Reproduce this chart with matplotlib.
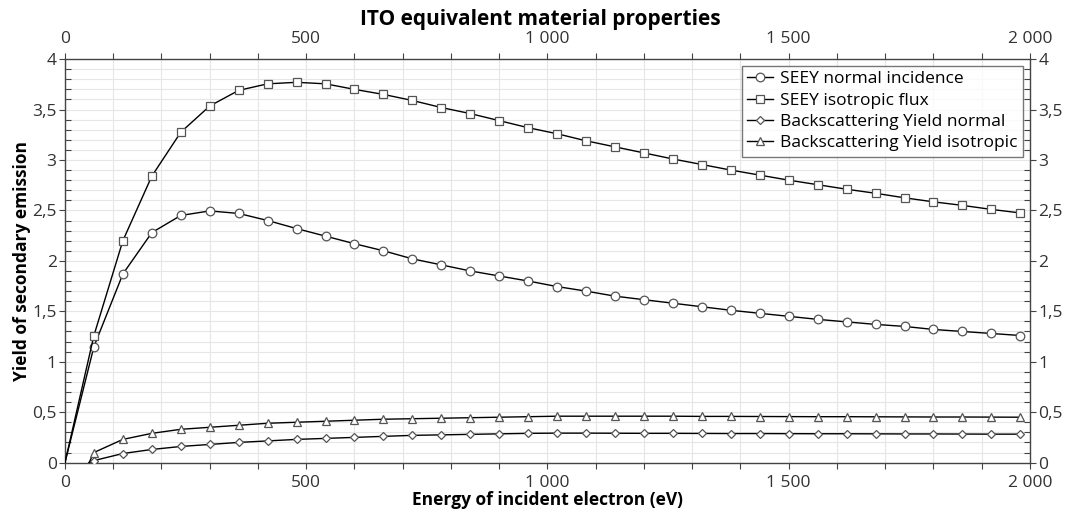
import matplotlib
matplotlib.use("Agg")
import matplotlib.pyplot as plt
from matplotlib.ticker import MultipleLocator, FuncFormatter

plt.rcParams["font.family"] = ["Open Sans", "DejaVu Sans"]

# energies (eV) where the markers sit, every 60 eV
ENERGY = [60, 120, 180, 240, 300, 360, 420, 480, 540, 600, 660, 720, 780, 840, 900, 960,
          1020, 1080, 1140, 1200, 1260, 1320, 1380, 1440, 1500, 1560, 1620, 1680, 1740,
          1800, 1860, 1920, 1980]

SEEY_NORMAL = [1.15, 1.87, 2.28, 2.45, 2.495, 2.47, 2.40, 2.32, 2.245, 2.17, 2.10, 2.02,
               1.96, 1.90, 1.85, 1.80, 1.745, 1.70, 1.65, 1.615, 1.58, 1.545, 1.51, 1.48,
               1.45, 1.42, 1.395, 1.37, 1.35, 1.32, 1.30, 1.28, 1.26]
SEEY_ISO = [1.26, 2.20, 2.84, 3.275, 3.535, 3.69, 3.755, 3.77, 3.755, 3.70, 3.65, 3.59,
            3.52, 3.46, 3.39, 3.32, 3.26, 3.19, 3.13, 3.07, 3.01, 2.955, 2.90, 2.85,
            2.80, 2.755, 2.71, 2.67, 2.625, 2.585, 2.55, 2.51, 2.475]
BSE_NORMAL = [0.02, 0.09, 0.13, 0.16, 0.18, 0.20, 0.215, 0.23, 0.24, 0.25, 0.26, 0.27,
              0.275, 0.28, 0.285, 0.29, 0.292, 0.292, 0.291, 0.29, 0.29, 0.289, 0.288,
              0.288, 0.287, 0.286, 0.286, 0.285, 0.284, 0.284, 0.283, 0.282, 0.282]
BSE_ISO = [0.10, 0.23, 0.29, 0.33, 0.35, 0.37, 0.39, 0.40, 0.41, 0.42, 0.43, 0.435,
           0.44, 0.445, 0.45, 0.455, 0.46, 0.46, 0.46, 0.46, 0.46, 0.458, 0.458, 0.457,
           0.456, 0.455, 0.455, 0.454, 0.453, 0.452, 0.452, 0.451, 0.45]

# curves leave zero at these energies (no marker there)
SEEY_START = 0
BSE_START = 50

LABELS = ["SEEY normal incidence", "SEEY isotropic flux",
          "Backscattering Yield normal", "Backscattering Yield isotropic"]

INK = "#333333"
EDGE = "#555555"


def fmt(v, _pos):
    if abs(v - round(v)) < 1e-9:
        s = f"{int(round(v)):,}".replace(",", " ")
    else:
        s = f"{v:g}".replace(".", ",")
    return s


fig = plt.figure(figsize=(10.74, 5.14), dpi=100)
ax = fig.add_axes([0.0605, 0.1, 0.8985, 0.785])

series = [
    (SEEY_NORMAL, SEEY_START, "o", 6.2),
    (SEEY_ISO, SEEY_START, "s", 6.2),
    (BSE_NORMAL, BSE_START, "D", 3.8),
    (BSE_ISO, BSE_START, "^", 6.0),
]
for (vals, x0, mk, ms), lab in zip(series, LABELS):
    ax.plot([x0] + ENERGY, [0.0] + vals, color="black", lw=1.0,
            marker=mk, ms=ms, mfc="white", mec=EDGE, mew=0.9,
            markevery=slice(1, None), label=lab, zorder=3)

ax.set_xlim(0, 2000)
ax.set_ylim(0, 4)
ax.xaxis.set_major_locator(MultipleLocator(500))
ax.xaxis.set_minor_locator(MultipleLocator(100))
ax.yaxis.set_major_locator(MultipleLocator(0.5))
ax.yaxis.set_minor_locator(MultipleLocator(0.1))
ax.xaxis.set_major_formatter(FuncFormatter(fmt))
ax.yaxis.set_major_formatter(FuncFormatter(fmt))

ax.grid(True, which="both", color="#e6e6e6", lw=0.8, zorder=0)
ax.set_axisbelow(True)

ax.tick_params(axis="both", which="both", colors="#444444", labelcolor=INK,
               labelsize=12.5, top=True, right=True, labeltop=True, labelright=True)
ax.tick_params(axis="x", which="both", direction="out", length=4, width=0.8, pad=5)
ax.tick_params(axis="y", which="major", direction="out", length=4, width=0.8, pad=2)
ax.tick_params(axis="y", which="minor", direction="in", length=4, width=0.8)
for sp in ax.spines.values():
    sp.set_color("#444444")
    sp.set_linewidth(1.0)

ax.set_xlabel("Energy of incident electron (eV)", fontsize=12.5, fontweight="bold",
              labelpad=0)
ax.set_ylabel("Yield of secondary emission", fontsize=12.5, fontweight="bold",
              labelpad=1)
fig.text(0.503, 0.963, "ITO equivalent material properties", ha="center", va="center",
         fontsize=15, fontweight="bold")

leg = ax.legend(loc="upper right", fontsize=12.5, frameon=True, fancybox=False,
                handlelength=1.5, handletextpad=0.4, borderpad=0.3, labelspacing=0.3,
                borderaxespad=0.4)
leg.get_frame().set_edgecolor("#555555")
leg.get_frame().set_linewidth(1.0)

fig.savefig("out.png", dpi=100)
